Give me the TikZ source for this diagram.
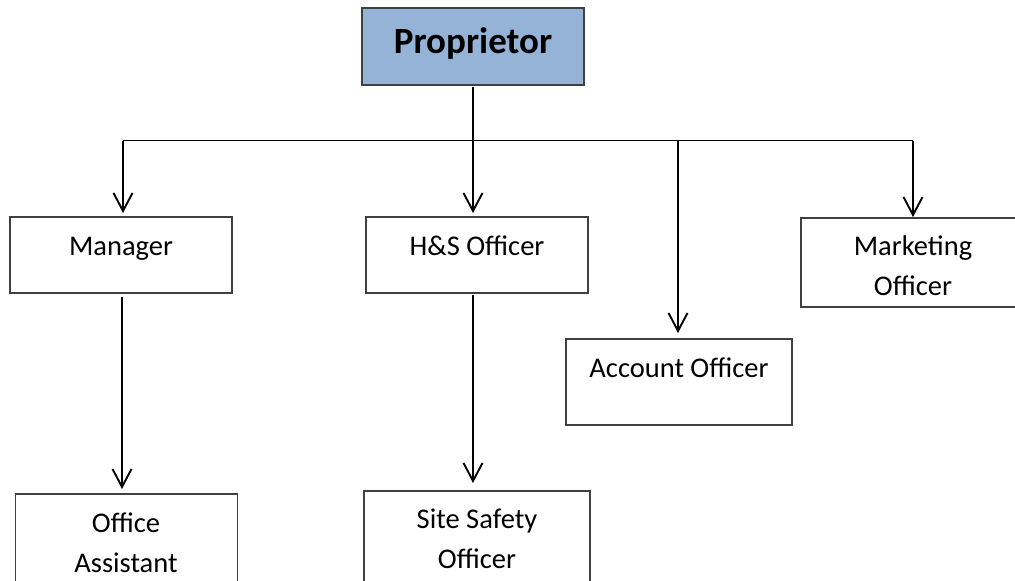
\documentclass[tikz,border=0pt]{standalone}
\usepackage{fontspec}
\setmainfont{Carlito}
\usetikzlibrary{arrows.meta}
\definecolor{propblue}{HTML}{95B3D7}
\definecolor{boxline}{HTML}{404040}
\tikzset{
  box/.style={draw=boxline, line width=1.3pt, minimum width=#1, minimum height=76pt, inner sep=0pt, outer sep=0pt, anchor=north west},
  box/.default=222pt,
  lbl/.style={anchor=base, inner sep=0pt, align=center, font=\fontsize{28.5}{40}\selectfont},
  conn/.style={line width=1.9pt, black},
  arr/.style={conn, -{Straight Barb[length=18pt,width=19pt,line width=1.9pt]}},
}
\begin{document}
\begin{tikzpicture}[x=1pt,y=-1pt]
\useasboundingbox (0,0) rectangle (1015,581);
\clip (0,0) rectangle (1015,581);
% boxes
\node[box, fill=propblue, minimum height=77pt] (prop) at (362,8) {};
\node[box] (man) at (10,217) {};
\node[box] (hs) at (366,217) {};
\node[box, minimum height=89pt, minimum width=224pt] (mkt) at (801,218) {};
\node[box, minimum width=226pt, minimum height=86pt] (acc) at (566,339) {};
\node[box, minimum height=120pt] (oa) at (15.5,494) {};
\node[box, minimum width=226pt, minimum height=120pt] (ss) at (364,491) {};
% labels
\node[lbl, font=\fontsize{37}{44}\selectfont\bfseries] (tprop) at (473,53) {Proprietor};
\node[lbl] (tman) at (121,255) {Manager};
\node[lbl] (ths) at (477,255) {H\&S Officer};
\node[lbl] (tmkt) at (913,295) {Marketing\\Officer};
\node[lbl] (tacc) at (679,377) {Account Officer};
\node[lbl] (toa) at (126,572) {Office\\Assistant};
\node[lbl] (tss) at (477,568) {Site Safety\\Officer};
% connectors
\coordinate (bus) at (473,140.5);
\coordinate (bl) at (123,140.5);
\coordinate (br) at (913,140.5);
\coordinate (ba) at (678,140.5);
\draw[conn] ([yshift=-2pt]prop.south -| bus) -- (bus);
\draw[conn] (bl) -- (br);
\draw[arr, shorten >=4pt] (bl) -- (bl |- man.north);
\draw[arr, shorten >=4pt] (bus) -- (bus |- hs.north);
\draw[arr, shorten >=6pt] (ba) -- (ba |- acc.north);
\draw[arr, shorten >=1pt] (br) -- (br |- mkt.north);
\coordinate (mo) at (122,297);
\coordinate (hso) at (473,295);
\draw[arr, shorten >=5pt] (mo) -- (mo |- oa.north);
\draw[arr, shorten >=8pt] (hso) -- (hso |- ss.north);
\end{tikzpicture}
\end{document}
